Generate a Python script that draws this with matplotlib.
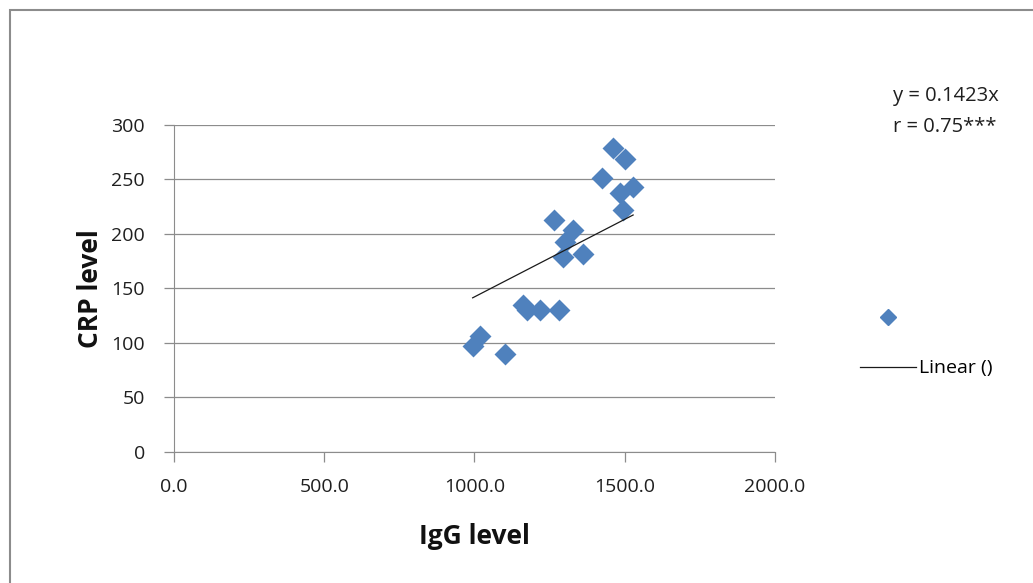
import numpy as np
import matplotlib.pyplot as plt
from matplotlib.lines import Line2D
from matplotlib.patches import Rectangle

# IgG vs CRP values
igg = [1461, 1501, 1423, 1484, 1528, 1494, 1265, 1328, 1301, 1360,
       1295, 1162, 1174, 1218, 1281, 1018, 994, 1100]
crp = [279, 269, 251, 238, 243, 222, 213, 204, 193, 182,
       179, 135, 130, 130, 130, 106, 97, 90]
slope = 0.1423
eq_text = "y = 0.1423x"
r_text = "r = 0.75***"

x_ticks = [0, 500, 1000, 1500, 2000]
y_ticks = [0, 50, 100, 150, 200, 250, 300]

plt.rcParams["font.family"] = ["Open Sans", "DejaVu Sans"]
BLUE = "#4F81BD"
GRID = "#8c8c8c"
TXT = "#1f1f1f"

fig = plt.figure(figsize=(10.33, 5.83), dpi=100)
ax = fig.add_axes([0.1684, 0.2247, 0.5818, 0.5609])

ax.scatter(igg, crp, marker="D", s=125, color=BLUE, zorder=3, linewidths=0)

xs = np.array([min(igg), max(igg)])
ax.plot(xs, slope * xs, color="#1a1a1a", lw=0.9, zorder=4)

ax.set_xlim(0, 2000)
ax.set_ylim(0, 300)
ax.set_xticks(x_ticks)
ax.set_xticklabels([f"{v:.1f}" for v in x_ticks])
ax.set_yticks(y_ticks)
ax.yaxis.grid(True, color=GRID, lw=0.9)
ax.set_axisbelow(True)
for side in ("top", "right"):
    ax.spines[side].set_visible(False)
for side in ("left", "bottom"):
    ax.spines[side].set_color(GRID)
ax.tick_params(axis="both", colors=GRID, labelcolor=TXT,
               labelsize=14, length=7, width=0.9)
ax.tick_params(axis="x", pad=12)
ax.tick_params(axis="y", pad=14)

ax.set_xlabel("IgG level", fontsize=19, fontweight="bold", labelpad=19,
              color="#111111")
ax.set_ylabel("CRP level", fontsize=19, fontweight="bold", labelpad=5,
              color="#111111")

fig.text(0.864, 0.836, eq_text, fontsize=14.5, color=TXT, va="center")
fig.text(0.864, 0.783, r_text, fontsize=14.5, color=TXT, va="center")

handles = [
    Line2D([], [], marker="D", color=BLUE, ls="none", markersize=8),
    Line2D([], [], color="#1a1a1a", lw=0.9),
]
fig.legend(handles, ["", "Linear ()"], loc="center left",
           bbox_to_anchor=(0.816, 0.411), frameon=False, fontsize=14,
           handlelength=2.85, labelspacing=1.65, handletextpad=0.15)

fig.patches.append(Rectangle((10 / 1033, -0.05), 1.05, 1 - 10 / 583 + 0.05,
                             transform=fig.transFigure, fill=False,
                             edgecolor="#8c8c8c", lw=1.5))

fig.savefig("out.png", dpi=100)
